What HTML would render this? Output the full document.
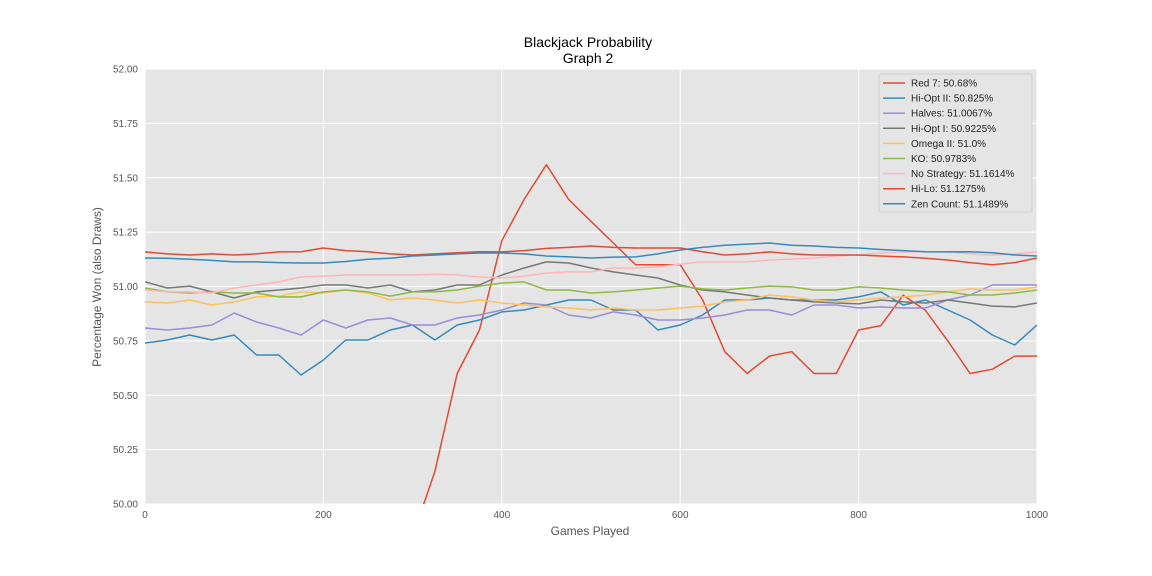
<!DOCTYPE html>
<html><head><meta charset="utf-8"><style>
html,body{margin:0;padding:0;background:#fff;width:1152px;height:576px;overflow:hidden;}
svg{display:block;}
svg text{font-family:"Liberation Sans","DejaVu Sans",sans-serif;}
</style></head><body>
<svg width="1152" height="576" viewBox="0 0 1152 576" xmlns="http://www.w3.org/2000/svg">
<defs><clipPath id="clip"><rect x="145" y="69" width="892" height="435"/></clipPath></defs>
<text x="588" y="47" text-anchor="middle" font-size="14" fill="#000">Blackjack Probability</text>
<text x="588" y="63" text-anchor="middle" font-size="14" fill="#000">Graph 2</text>
<rect x="145" y="69" width="892" height="435" fill="#e5e5e5"/>
<g id="grid"></g>
<g id="ticks"></g>
<g id="series" clip-path="url(#clip)"></g>
<text x="590" y="535" text-anchor="middle" font-size="12" fill="#555">Games Played</text>
<text x="101" y="287" text-anchor="middle" font-size="12" fill="#555" transform="rotate(-90 101 287)">Percentage Won (also Draws)</text>
<g id="legend"></g>
</svg>
<script>
const games=[0,25,50,75,100,125,150,175,200,225,250,275,300,325,350,375,400,425,450,475,500,525,550,575,600,625,650,675,700,725,750,775,800,825,850,875,900,925,950,975,1000];
const red7=[49.3,49.3,49.35,49.4,49.4,49.45,49.5,49.5,49.55,49.6,49.65,49.7,49.85,50.15,50.6,50.8,51.21,51.4,51.56,51.4,51.3,51.2,51.1,51.1,51.1,50.94,50.7,50.6,50.68,50.7,50.6,50.6,50.8,50.82,50.96,50.89,50.75,50.6,50.62,50.68,50.68];
const hiOpt2=[50.74,50.754,50.777,50.754,50.777,50.685,50.685,50.593,50.662,50.754,50.754,50.8,50.823,50.754,50.823,50.846,50.883,50.892,50.915,50.938,50.938,50.892,50.892,50.8,50.823,50.869,50.938,50.938,50.947,50.938,50.938,50.938,50.952,50.975,50.915,50.938,50.892,50.846,50.777,50.731,50.823];
const halves=[50.809,50.8,50.809,50.823,50.878,50.837,50.809,50.777,50.846,50.809,50.846,50.855,50.823,50.823,50.855,50.869,50.892,50.924,50.915,50.869,50.855,50.883,50.869,50.846,50.846,50.855,50.869,50.892,50.892,50.869,50.915,50.915,50.901,50.906,50.901,50.901,50.938,50.961,51.007,51.007,51.007];
const hiOpt1=[51.021,50.993,51.002,50.975,50.947,50.975,50.984,50.993,51.007,51.007,50.993,51.007,50.975,50.984,51.007,51.007,51.053,51.085,51.113,51.108,51.085,51.067,51.053,51.039,51.007,50.984,50.975,50.961,50.947,50.938,50.929,50.924,50.92,50.938,50.929,50.924,50.938,50.924,50.91,50.906,50.924];
const omega2=[50.929,50.924,50.938,50.915,50.929,50.952,50.956,50.975,50.97,50.984,50.97,50.938,50.947,50.938,50.924,50.938,50.924,50.915,50.906,50.901,50.892,50.901,50.892,50.892,50.901,50.91,50.929,50.938,50.961,50.952,50.938,50.929,50.938,50.947,50.952,50.961,50.975,50.989,50.984,50.984,50.998];
const ko=[50.993,50.975,50.97,50.975,50.97,50.97,50.952,50.952,50.975,50.984,50.975,50.956,50.975,50.975,50.984,51.002,51.016,51.021,50.984,50.984,50.97,50.975,50.984,50.993,51.002,50.989,50.984,50.993,51.002,50.998,50.984,50.984,50.998,50.993,50.984,50.979,50.975,50.961,50.961,50.97,50.984];
const noStrat=[50.984,50.975,50.975,50.97,50.993,51.007,51.021,51.044,51.048,51.053,51.053,51.053,51.053,51.057,51.053,51.044,51.039,51.048,51.062,51.067,51.067,51.085,51.085,51.09,51.103,51.113,51.113,51.113,51.122,51.126,51.131,51.14,51.145,51.154,51.159,51.159,51.159,51.15,51.145,51.15,51.159];
const hiLo=[51.159,51.15,51.145,51.15,51.145,51.15,51.159,51.16,51.177,51.165,51.16,51.15,51.145,51.15,51.155,51.16,51.159,51.165,51.175,51.18,51.186,51.18,51.177,51.177,51.177,51.16,51.145,51.15,51.159,51.15,51.145,51.145,51.145,51.14,51.136,51.13,51.122,51.11,51.1,51.11,51.131];
const zen=[51.131,51.13,51.125,51.12,51.113,51.113,51.11,51.108,51.108,51.115,51.125,51.13,51.14,51.145,51.15,51.154,51.154,51.15,51.14,51.136,51.131,51.135,51.136,51.15,51.168,51.18,51.19,51.195,51.2,51.19,51.186,51.18,51.177,51.17,51.165,51.16,51.159,51.16,51.155,51.145,51.14];
const yTicks=[50.00,50.25,50.50,50.75,51.00,51.25,51.50,51.75,52.00];
const xTicks=[0,200,400,600,800,1000];
const seriesNames=["Red 7: 50.68%","Hi-Opt II: 50.825%","Halves: 51.0067%","Hi-Opt I: 50.9225%","Omega II: 51.0%","KO: 50.9783%","No Strategy: 51.1614%","Hi-Lo: 51.1275%","Zen Count: 51.1489%"];
const seriesColors=["#e24a33","#348abd","#988ed5","#777777","#fbc15e","#8eba42","#ffb5b8","#e24a33","#348abd"];
const seriesKeys=["red-7","hi-opt-ii","halves","hi-opt-i","omega-ii","ko","no-strategy","hi-lo","zen-count"];
const seriesData=[red7,hiOpt2,halves,hiOpt1,omega2,ko,noStrat,hiLo,zen];
const NS="http://www.w3.org/2000/svg";
const X=g=>145+g/1000*892;
const Y=v=>504-(Math.max(v,49.85)-50)/2*435;
function mk(tag,attrs,parent){const e=document.createElementNS(NS,tag);for(const k in attrs)e.setAttribute(k,attrs[k]);parent.appendChild(e);return e;}
const grid=document.getElementById('grid'),ticks=document.getElementById('ticks');
yTicks.forEach(v=>{
 const l=mk('line',{x1:145,x2:1037,y1:Y(v),y2:Y(v),stroke:'#fff','stroke-width':1},grid);
 
 
 const t=mk('text',{x:138,y:Y(v)+3.5,'text-anchor':'end','font-size':10,fill:'#555'},ticks);
 t.textContent=v.toFixed(2);
 
 
});
xTicks.forEach(g=>{
 const l=mk('line',{x1:X(g),x2:X(g),y1:69,y2:504,stroke:'#fff','stroke-width':1},grid);
 
 
 const t=mk('text',{x:X(g),y:518,'text-anchor':'middle','font-size':10,fill:'#555'},ticks);
 t.textContent=g;
 
 
});
const sg=document.getElementById('series');
seriesData.forEach((d,i)=>{
 const pts=d.map((v,j)=>X(games[j]).toFixed(1)+','+Y(v).toFixed(1)).join(' ');
 const p=mk('polyline',{points:pts,fill:'none',stroke:seriesColors[i],'stroke-width':1.5,'stroke-linejoin':'round'},sg);
 
 
});
const lg=document.getElementById('legend');
const box=mk('rect',{x:879,y:74,width:153,height:138,fill:'#e5e5e5',stroke:'#d0d0d0','stroke-width':1,rx:2},lg);


seriesNames.forEach((n,i)=>{
 const y=83+i*15.1;
 const l=mk('line',{x1:883,x2:905,y1:y,y2:y,stroke:seriesColors[i],'stroke-width':1.5},lg);
 
 
 const t=mk('text',{x:911,y:y+3.5,'font-size':10,fill:'#222'},lg);
 t.textContent=n;
 
 
});
</script>
</body></html>
